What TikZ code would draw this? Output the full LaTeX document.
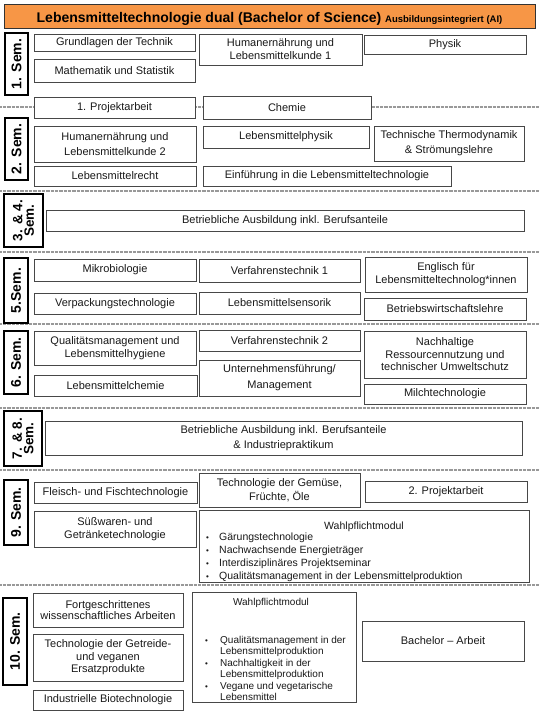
\documentclass[tikz,border=0pt]{standalone}
\usepackage{fontspec}
\setmainfont{Liberation Sans}
\definecolor{titleorange}{RGB}{247,150,70}
\newcommand\rbox[7][]{\node[box,minimum width={(#5-#3)*1pt},minimum height={(#6-#4)*1pt},#1] (#2) at ({(#3+#5)/2},{(#4+#6)/2}) {#7};}
\newcommand\rlab[7][]{\node[semlabel,rotate=90,minimum width={(#6-#4)*1pt},minimum height={(#5-#3)*1pt},#1] (#2) at ({(#3+#5)/2},{(#4+#6)/2}) {#7};}
\newcommand\wbul[1][13pt]{\makebox[#1][l]{\fontsize{8}{8}\selectfont\textbullet}}
\begin{document}
\begin{tikzpicture}[x=1pt,y=-1pt,
 box/.style={draw=black!72,line width=1pt,fill=white,inner sep=0pt,align=center,text=black!90,font=\fontsize{11}{13}\selectfont},
 semlabel/.style={draw=black,line width=1.6pt,fill=white,inner sep=0pt,align=center,font=\bfseries\fontsize{14}{11}\selectfont},
 sepline/.style={draw=black!40,line width=1.1pt,dash pattern=on 0.6pt off 0.7pt},
 wtext/.style={inner sep=0pt,text=black!90}]
\useasboundingbox (0,0) rectangle (540,720);
% separators
\foreach \yy in {107,191,252,324,408,470,585} \draw[sepline] (0,\yy) -- (540,\yy);
% title
\node[draw=black!80,line width=0.9pt,fill=titleorange,minimum width=531pt,minimum height=24pt,inner sep=0pt] (title) at (269.5,16) {};
\node[anchor=base,inner sep=0pt] (titletext) at (269.5,22.5) {\bfseries\fontsize{14}{14}\selectfont Lebensmitteltechnologie dual (Bachelor of Science) {\fontsize{9.5}{9.5}\selectfont Ausbildungsintegriert (AI)}};
% labels
\rlab{l1}{5}{33}{28}{95}{1. Sem.}
\rlab{l2}{5}{118}{28}{180}{2. Sem.}
\rlab[font=\bfseries\fontsize{13.5}{11.5}\selectfont]{l34}{4}{194}{43}{247}{3. \& 4.\\Sem.}
\rlab{l5}{4}{258}{28}{323}{5.Sem.}
\rlab{l6}{4}{331}{28}{394}{6. Sem.}
\rlab[font=\bfseries\fontsize{13.5}{11.5}\selectfont]{l78}{4}{411}{42}{466}{7. \& 8.\\Sem.}
\rlab{l9}{4}{480}{28}{545}{9. Sem.}
\rlab{l10}{3}{598}{27}{685}{10. Sem.}
% 1. Sem
\rbox{grund}{34}{34}{195}{51}{Grundlagen der Technik}
\rbox{mathe}{34}{59}{195}{82}{Mathematik und Statistik}
\rbox{hum1}{199}{34}{362}{65}{Humanernährung und\\Lebensmittelkunde 1}
\rbox{physik}{364}{35}{526}{54}{Physik}
% 2. Sem
\rbox{proj1}{34}{97}{195}{118}{1. Projektarbeit}
\rbox{chemie}{203}{96}{371}{119}{Chemie}
\rbox[font=\fontsize{11}{15.5}\selectfont]{hum2}{34}{126}{196}{162}{Humanernährung und\\Lebensmittelkunde 2}
\rbox{lmphys}{203}{126}{369}{148}{Lebensmittelphysik}
\rbox[font=\fontsize{11}{15}\selectfont]{thermo}{374}{126}{524}{161}{Technische Thermodynamik\\\& Strömungslehre}
\rbox{recht}{34}{166}{196}{186}{Lebensmittelrecht}
\rbox{einf}{203}{166}{451}{186}{Einführung in die Lebensmitteltechnologie}
% 3. & 4. Sem
\rbox{betr1}{46}{210}{524}{231}{Betriebliche Ausbildung inkl. Berufsanteile}
% 5. Sem
\rbox{mikro}{34}{259}{196}{281}{Mikrobiologie}
\rbox{vt1}{199}{259}{360}{282}{Verfahrenstechnik 1}
\rbox{engl}{365}{257}{527}{292}{Englisch für\\Lebensmitteltechnolog*innen}
\rbox{verp}{34}{293}{196}{314}{Verpackungstechnologie}
\rbox{sens}{199}{292}{360}{314}{Lebensmittelsensorik}
\rbox{bwl}{364}{298}{526}{320}{Betriebswirtschaftslehre}
% 6. Sem
\rbox[font=\fontsize{11}{12.5}\selectfont]{quali}{34}{331}{196}{365}{Qualitätsmanagement und\\Lebensmittelhygiene}
\rbox{lmchem}{34}{375}{197}{396}{Lebensmittelchemie}
\rbox{vt2}{199}{330}{360}{351}{Verfahrenstechnik 2}
\rbox[font=\fontsize{11}{16}\selectfont]{untern}{199}{360}{360}{396}{Unternehmensführung/\\Management}
\rbox[font=\fontsize{11}{12.5}\selectfont]{nachh}{364}{331}{526}{378}{Nachhaltige\\Ressourcennutzung und\\technischer Umweltschutz}
\rbox{milch}{364}{384}{526}{404}{Milchtechnologie}
% 7. & 8. Sem
\rbox[font=\fontsize{11}{14.5}\selectfont]{betr2}{45}{421}{522}{455}{Betriebliche Ausbildung inkl. Berufsanteile\\\& Industriepraktikum}
% 9. Sem
\rbox{fleisch}{34}{482}{197}{503}{Fleisch- und Fischtechnologie}
\rbox[font=\fontsize{11}{13.5}\selectfont]{gemuese}{199}{473}{360}{507}{Technologie der Gemüse,\\Früchte, Öle}
\rbox{proj2}{365}{481}{527}{502}{2. Projektarbeit}
\rbox[font=\fontsize{11}{13.5}\selectfont]{suess}{34}{511}{196}{547}{Süßwaren- und\\Getränketechnologie}
\rbox{w9}{199}{510}{529}{582}{}
\node[wtext,anchor=base,font=\fontsize{10.5}{13}\selectfont] (w9h) at (364,529) {Wahlpflichtmodul};
\node[wtext,anchor=north west,align=left,font=\fontsize{10.5}{13}\selectfont] (w9l) at (206,530.9) {\strut\wbul Gärungstechnologie\\\wbul Nachwachsende Energieträger\\\wbul Interdisziplinäres Projektseminar\\\wbul Qualitätsmanagement in der Lebensmittelproduktion};
% 10. Sem
\rbox[font=\fontsize{11}{11.7}\selectfont]{fort}{33}{593}{183}{627}{Fortgeschrittenes\\wissenschaftliches Arbeiten}
\rbox[font=\fontsize{11}{12.5}\selectfont]{getr}{33}{634}{183}{681}{Technologie der Getreide-\\und veganen\\Ersatzprodukte}
\rbox{indus}{33}{690}{183}{710}{Industrielle Biotechnologie}
\rbox{w10}{192}{592}{356}{702}{}
\node[wtext,anchor=base,font=\fontsize{10}{11.5}\selectfont] (w10h) at (271,605) {Wahlpflichtmodul};
\node[wtext,anchor=north west,align=left,font=\fontsize{10}{11.5}\selectfont] (w10l) at (205,635) {\strut\wbul[15pt]Qualitätsmanagement in der\\\hspace*{15pt}Lebensmittelproduktion\\\wbul[15pt]Nachhaltigkeit in der\\\hspace*{15pt}Lebensmittelproduktion\\\wbul[15pt]Vegane und vegetarische\\\hspace*{15pt}Lebensmittel};
\rbox{bach}{362}{621}{524}{661}{Bachelor – Arbeit}
\end{tikzpicture}
\end{document}
